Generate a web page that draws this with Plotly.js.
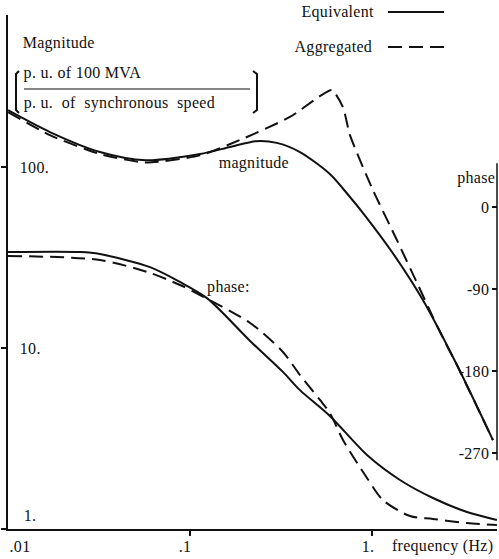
<!DOCTYPE html>
<html>
<head>
<meta charset="utf-8">
<script src="https://cdn.plot.ly/plotly-3.0.1.min.js"></script>
<style>
html,body{margin:0;padding:0;background:#fff;}
#chart text{letter-spacing:0.3px;}
</style>
</head>
<body>
<div id="chart" style="width:499px;height:559px;"></div>
<script>
// Frequencies (Hz) and values
const freqMagEquivalent = [0.01, 0.017, 0.032, 0.057, 0.1135, 0.166, 0.23, 0.30, 0.402, 0.587, 0.757, 0.893, 1.30, 1.905, 2.93, 4.62];
const magEquivalent     = [206, 156, 121, 109, 118, 129, 139, 136, 121, 91.5, 68.3, 55.7, 33.5, 18.4, 8.05, 3.10];

const freqMagAggregated = [0.01, 0.017, 0.032, 0.057, 0.1135, 0.188, 0.354, 0.52, 0.603, 0.693, 0.757, 1.012, 1.371, 1.79, 2.163, 2.52, 2.93, 4.62];
const magAggregated     = [201, 150, 118, 106, 116, 141, 189, 247, 266, 214, 150, 74.6, 39.5, 22.3, 14.8, 10.8, 8.05, 3.10];

const freqPhaseEquivalent = [0.01, 0.025, 0.032, 0.0603, 0.0881, 0.124, 0.214, 0.324, 0.402, 0.587, 0.939, 1.425, 2.163, 3.328, 4.86];
const phaseEquivalent     = [-49.4, -49.4, -51.6, -66, -82.3, -100, -147, -181, -201, -229.4, -272.2, -299.6, -319.4, -334.8, -343.5];

const freqPhaseAggregated = [0.01, 0.032, 0.0603, 0.0881, 0.1135, 0.214, 0.324, 0.402, 0.518, 0.587, 0.693, 0.939, 1.148, 1.617, 2.163, 3.328, 4.86];
const phaseAggregated     = [-53.8, -58.2, -72.4, -85.6, -96.6, -127.3, -159.1, -184.4, -211.8, -226.1, -255.7, -297.4, -321.6, -339.2, -342.4, -346.8, -349.0];

const xTickVals = [0.01, 0.1, 1];
const xTickText = ['.01', '.1', '1.'];
const yTickVals = [1, 10, 100];
const yTickText = ['', '10.', '100.'];
const phaseTickVals = [0, -90, -180, -270];
const phaseTickText = ['0', '-90', '-180', '-270'];

const FONT = 'Liberation Serif';
const INK = '#111';
const FS = 16;
const DASH = '14px,7px';

const traces = [
  {x: freqMagEquivalent, y: magEquivalent, name: 'Equivalent', type: 'scatter', mode: 'lines',
   line: {color: INK, width: 2, shape: 'spline', smoothing: 0.8}, yaxis: 'y'},
  {x: freqMagAggregated, y: magAggregated, name: 'Aggregated', type: 'scatter', mode: 'lines',
   line: {color: INK, width: 2, dash: DASH, shape: 'spline', smoothing: 0.6}, yaxis: 'y'},
  {x: freqPhaseEquivalent, y: phaseEquivalent, name: 'Equivalent phase', type: 'scatter', mode: 'lines',
   line: {color: INK, width: 2, shape: 'spline', smoothing: 0.8}, yaxis: 'y2'},
  {x: freqPhaseAggregated, y: phaseAggregated, name: 'Aggregated phase', type: 'scatter', mode: 'lines',
   line: {color: INK, width: 2, dash: DASH, shape: 'spline', smoothing: 0.8}, yaxis: 'y2'}
];

function txt(text, x, y, xanchor) {
  return {text: text, x: x, y: y, xref: 'paper', yref: 'paper', xanchor: xanchor || 'left', yanchor: 'middle',
          showarrow: false, font: {family: FONT, size: FS, color: INK}};
}

// x tick labels drawn at the axis tick values (offsets mimic the reference's placement)
const xLabelAnchor = ['left', 'right', 'right'];
const xLabelShift = [0, 3, 4];
const xTickLabels = xTickVals.map((v, i) => ({
  text: xTickText[i], x: Math.log10(v), y: -17/514, xref: 'x', yref: 'paper',
  xanchor: xLabelAnchor[i], xshift: xLabelShift[i], yanchor: 'middle', showarrow: false,
  font: {family: FONT, size: FS, color: INK}
}));

const layout = {
  width: 499, height: 559,
  margin: {l: 8, r: 2, t: 15, b: 30},
  paper_bgcolor: '#fff', plot_bgcolor: '#fff',
  showlegend: false,
  font: {family: FONT, size: FS, color: INK},
  xaxis: {type: 'log', range: [-2, 0.687], showline: true, linewidth: 2, linecolor: INK,
          ticks: 'outside', ticklen: 5, tickwidth: 1.5, tickcolor: INK,
          tickvals: xTickVals, showticklabels: false,
          showgrid: false, zeroline: false},
  yaxis: {type: 'log', range: [0, 2.84], showline: true, linewidth: 2, linecolor: INK,
          ticks: 'outside', ticklen: 5, tickwidth: 1.5, tickcolor: INK,
          tickvals: yTickVals, ticktext: yTickText, ticklabelposition: 'inside', ticklabelstandoff: 12,
          showgrid: false, zeroline: false, tickfont: {family: FONT, size: FS, color: INK}},
  yaxis2: {overlaying: 'y', side: 'right', range: [-353.4, 210.7], showline: false,
           ticks: 'inside', ticklen: 5, tickwidth: 1.5, tickcolor: INK,
           tickvals: phaseTickVals, ticktext: phaseTickText, ticklabelposition: 'inside', ticklabelstandoff: 3,
           showgrid: false, zeroline: false, tickfont: {family: FONT, size: FS, color: INK}},
  shapes: [
    // right phase axis line (partial)
    {type: 'line', xref: 'paper', yref: 'y2', x0: 1, x1: 1, y0: 48, y1: -278, line: {color: INK, width: 1.5}},
    // fraction line
    {type: 'line', xref: 'paper', yref: 'paper', x0: 16/489, x1: 242/489, y0: 440/514, y1: 440/514, line: {color: INK, width: 1.2}},
    // left bracket
    {type: 'path', xref: 'paper', yref: 'paper',
     path: 'M ' + (11/489) + ',' + (458/514) + ' L ' + (8/489) + ',' + (455/514) + ' L ' + (8/489) + ',' + (419/514) + ' L ' + (11/489) + ',' + (416/514),
     line: {color: INK, width: 2}},
    // right bracket
    {type: 'path', xref: 'paper', yref: 'paper',
     path: 'M ' + (245/489) + ',' + (458/514) + ' L ' + (249/489) + ',' + (455/514) + ' L ' + (249/489) + ',' + (419/514) + ' L ' + (245/489) + ',' + (416/514),
     line: {color: INK, width: 2}},
    // legend lines
    {type: 'line', xref: 'paper', yref: 'paper', x0: 380/489, x1: 436/489, y0: 517/514, y1: 517/514, line: {color: INK, width: 2}},
    {type: 'line', xref: 'paper', yref: 'paper', x0: 380/489, x1: 436/489, y0: 482/514, y1: 482/514, line: {color: INK, width: 2, dash: DASH}}
  ],
  annotations: [
    txt('Equivalent', 367/489, 517/514, 'right'),
    txt('Aggregated', 365/489, 482/514, 'right'),
    txt('Magnitude', 14/489, 486/514),
    txt('p. u. of 100 MVA', 16/489, 456/514),
    txt('p. u.\u00a0 of\u00a0 synchronous\u00a0 speed', 18/489, 426/514),
    txt('magnitude', 210/489, 366/514),
    txt('phase:', 198/489, 242/514),
    txt('phase', 448/489, 351/514),
    txt('1.', 14/489, 14/514),
    txt('frequency (Hz)', 384/489, -17/514)
  ].concat(xTickLabels)
};

Plotly.newPlot('chart', traces, layout, {staticPlot: true, displayModeBar: false});
</script>
</body>
</html>
